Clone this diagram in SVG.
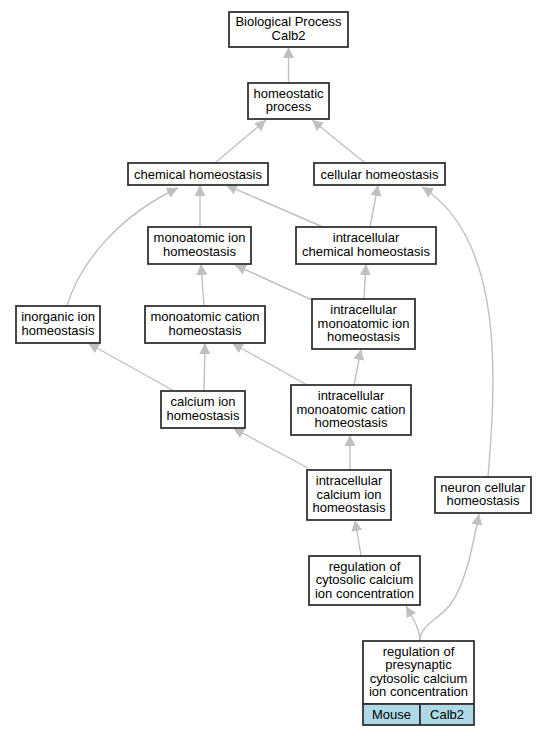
<svg xmlns="http://www.w3.org/2000/svg" width="545" height="736" viewBox="0 0 545 736">
<defs>
<marker id="ah" markerUnits="userSpaceOnUse" markerWidth="11" markerHeight="11" viewBox="0 0 11 11" refX="11" refY="5.5" orient="auto">
<path d="M0,0 L11,5.5 L0,11 z" fill="#c0c0c0"/>
</marker>
<style>
.n rect{fill:#fff;stroke:#333;stroke-width:1.8}
.n rect.t{fill:#add8e6}
text{font-family:"Liberation Sans",Arial,sans-serif;font-size:13px;fill:#000;text-anchor:middle}
.e path{fill:none;stroke:#c0c0c0;stroke-width:1.4;marker-end:url(#ah)}
</style>
</defs>
<rect width="545" height="736" fill="#fff"/>
<g class="e" id="edges">
<path d="M288.5,83 L288.5,47"/>
<path d="M215,163 L266,120"/>
<path d="M365,163 L312,120"/>
<path d="M200,227 L200,185"/>
<path d="M323,227 L226,185"/>
<path d="M370,227 L378,185"/>
<path d="M67,306 C80,262 120,215 178,188"/>
<path d="M488,477 C496,380 505,240 422,187"/>
<path d="M204,306 L201,264"/>
<path d="M312,300 L235,265"/>
<path d="M364,299 L366,264"/>
<path d="M174,391 L88,343"/>
<path d="M204,391 L205,343"/>
<path d="M307,385 L232,343"/>
<path d="M354,385 L361,349"/>
<path d="M308,468 L233,428"/>
<path d="M350,470 L350,435"/>
<path d="M361,556 L355,520"/>
<path d="M420,641 C420,630 414,620 406,606"/>
<path d="M420,641 C420,625 438,620 450,605 C465,585 472,550 479,514"/>
</g>
<g class="n" id="n1"><rect x="229" y="12" width="119" height="35"/><text x="288.5" y="26">Biological Process</text><text x="288.5" y="39.5">Calb2</text></g>
<g class="n" id="n2"><rect x="248" y="83" width="81" height="36"/><text x="288.5" y="97.5">homeostatic</text><text x="288.5" y="111">process</text></g>
<g class="n" id="n3"><rect x="128" y="163" width="140" height="22"/><text x="198" y="178.5">chemical homeostasis</text></g>
<g class="n" id="n4"><rect x="314" y="163" width="131" height="22"/><text x="379.5" y="178.5">cellular homeostasis</text></g>
<g class="n" id="n5"><rect x="148" y="227" width="103" height="37"/><text x="199.5" y="242">monoatomic ion</text><text x="199.5" y="255.5">homeostasis</text></g>
<g class="n" id="n6"><rect x="296" y="227" width="140" height="37"/><text x="366" y="242">intracellular</text><text x="366" y="255.5">chemical homeostasis</text></g>
<g class="n" id="n7"><rect x="16" y="306" width="84" height="37"/><text x="58" y="321">inorganic ion</text><text x="58" y="334.5">homeostasis</text></g>
<g class="n" id="n8"><rect x="145" y="306" width="120" height="37"/><text x="205" y="321">monoatomic cation</text><text x="205" y="334.5">homeostasis</text></g>
<g class="n" id="n9"><rect x="312" y="299" width="103" height="50"/><text x="363.5" y="314">intracellular</text><text x="363.5" y="327.5">monoatomic ion</text><text x="363.5" y="341">homeostasis</text></g>
<g class="n" id="n10"><rect x="161" y="391" width="84" height="37"/><text x="203" y="406">calcium ion</text><text x="203" y="419.5">homeostasis</text></g>
<g class="n" id="n11"><rect x="291" y="385" width="120" height="50"/><text x="351" y="400">intracellular</text><text x="351" y="413.5">monoatomic cation</text><text x="351" y="427">homeostasis</text></g>
<g class="n" id="n12"><rect x="307" y="470" width="84" height="50"/><text x="349" y="485">intracellular</text><text x="349" y="498.5">calcium ion</text><text x="349" y="512">homeostasis</text></g>
<g class="n" id="n13"><rect x="435" y="477" width="96" height="36"/><text x="483" y="491.5">neuron cellular</text><text x="483" y="505">homeostasis</text></g>
<g class="n" id="n14"><rect x="309" y="556" width="111" height="49"/><text x="364.5" y="570.5">regulation of</text><text x="364.5" y="584">cytosolic calcium</text><text x="364.5" y="597.5">ion concentration</text></g>
<g class="n" id="n15"><rect x="363" y="641" width="111" height="63"/><rect class="t" x="363" y="704" width="57" height="21"/><rect class="t" x="420" y="704" width="54" height="21"/><text x="418.5" y="655.5">regulation of</text><text x="418.5" y="669">presynaptic</text><text x="418.5" y="682.5">cytosolic calcium</text><text x="418.5" y="696">ion concentration</text><text x="391.5" y="718.5">Mouse</text><text x="447" y="718.5">Calb2</text></g>
</svg>
